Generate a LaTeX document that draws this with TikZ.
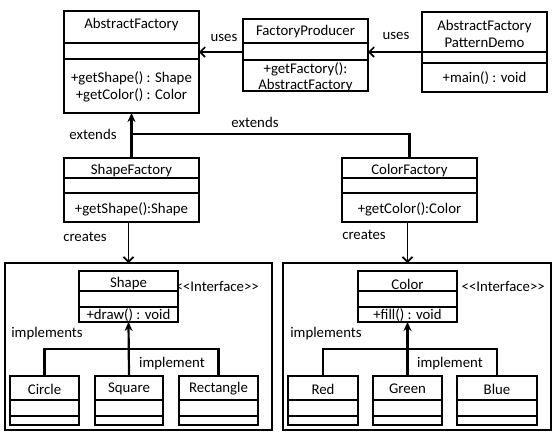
\documentclass[tikz,border=0pt]{standalone}
\usepackage{fontspec}
\setmainfont{Carlito}
\usetikzlibrary{arrows.meta,calc}
\newcommand\ubox[7]{%
  \node[box,minimum width={(#4-#2)*1pt},minimum height={(#5-#3)*1pt}] (#1) at (#2,#3) {};
  \draw[div] (#1.west |- 0,#6) -- (#1.east |- 0,#6);
  \draw[div] (#1.west |- 0,#7) -- (#1.east |- 0,#7);
}
\begin{document}
\begin{tikzpicture}[x=1pt,y=-1pt,
  box/.style={draw,line width=1.6pt,fill=white,inner sep=0pt,outer sep=0pt,anchor=north west},
  div/.style={line width=1.6pt},
  txt/.style={font=\fontsize{14.8}{17.5}\selectfont,inner sep=0pt,align=center},
  lbl/.style={font=\fontsize{14.8}{17.5}\selectfont,inner sep=0pt},
  usesarr/.style={line width=1.6pt,-{Straight Barb[length=5pt,width=10pt,line width=1.6pt]}},
  extarr/.style={line width=2.2pt,-{Stealth[length=9pt,width=8pt]}},
  plainline/.style={line width=2.2pt},
]
\useasboundingbox[fill=white] (0,0) rectangle (560,437);

% containers
\node[box,minimum width=267pt,minimum height=167pt] (leftc) at (5,263) {};
\node[box,minimum width=268pt,minimum height=167pt] (rightc) at (283,263) {};

% interface labels (drawn before boxes)
\node[lbl,anchor=east] (ifl) at (259,286) {<\kern0pt<Interface>\kern0pt>};
\node[lbl,anchor=east] (ifr) at (545,286) {<\kern0pt<Interface>\kern0pt>};

% boxes
\ubox{af}{64}{11}{199}{113}{43}{59}
\ubox{fp}{243}{19}{368}{91}{43}{60}
\ubox{demo}{422}{12}{547}{92}{52}{63}
\ubox{sf}{64}{158}{199}{222}{178}{193}
\ubox{cf}{342}{158}{477}{222}{178}{193}
\ubox{shape}{79}{271}{178}{322}{291}{307}
\ubox{color}{358}{271}{457}{322}{291}{307}
\ubox{circle}{10}{376}{79}{425}{400}{416}
\ubox{square}{95}{376}{163}{425}{400}{416}
\ubox{rect}{179}{376}{258}{425}{400}{416}
\ubox{red}{288}{376}{358}{425}{400}{416}
\ubox{green}{373}{376}{442}{425}{400}{416}
\ubox{blue}{457}{376}{537}{425}{400}{416}

% texts
\node[txt] (aft) at (131.5,25) {AbstractFactory};
\node[txt] (afm) at (131.5,87) {+getShape() : Shape\\+getColor() : Color};
\node[txt] (fpt) at (305.5,32) {FactoryProducer};
\node[txt,font=\fontsize{14.8}{16}\selectfont] (fpm) at (305.5,77.5) {+getFactory():\\AbstractFactory};
\node[txt] (demot) at (484.5,34) {AbstractFactory\\PatternDemo};
\node[txt] (demom) at (484.5,78) {+main() : void};
\node[txt] (sft) at (131.5,171) {ShapeFactory};
\node[txt] (sfm) at (131.5,209) {+getShape():Shape};
\node[txt] (cft) at (409.5,171) {ColorFactory};
\node[txt] (cfm) at (409.5,209) {+getColor():Color};
\node[txt] (shapet) at (128.5,284) {Shape};
\node[txt] (shapem) at (128.5,315) {+draw() : void};
\node[txt] (colort) at (407.5,284) {Color};
\node[txt] (colorm) at (407.5,315) {+fill() : void};
\node[txt] at (circle.center |- 0,389) {Circle};
\node[txt] at (square.center |- 0,389) {Square};
\node[txt] at (rect.center |- 0,389) {Rectangle};
\node[txt] at (red.center |- 0,389) {Red};
\node[txt] at (green.center |- 0,389) {Green};
\node[txt] at (blue.center |- 0,389) {Blue};

% labels
\node[lbl] (u1) at (224,38) {uses};
\node[lbl] (u2) at (396,36) {uses};
\node[lbl] (e1) at (93,134) {extends};
\node[lbl] (e2) at (255,122) {extends};
\node[lbl] (c1) at (85,237) {creates};
\node[lbl] (c2) at (364,235) {creates};
\node[lbl] (i1) at (47,334) {implements};
\node[lbl] (i2) at (172,364) {implement};
\node[lbl] (i3) at (326,334) {implements};
\node[lbl] (i4) at (450,364) {implement};

% connectors
\draw[usesarr] (demo.west |- 0,52) -- (fp.east |- 0,52);
\draw[usesarr] (fp.west |- 0,52) -- (af.east |- 0,52);
\coordinate (j) at (af.south |- 0,134);
\draw[extarr] (sf.north) -- (af.south);
\draw[plainline] (cf.north) |- (j);
\draw[usesarr] (sf.south -| shape.north) -- (leftc.north -| shape.north);
\draw[usesarr] (cf.south -| color.north) -- (rightc.north -| color.north);

\coordinate (hl) at (circle.north |- 0,349);
\coordinate (hr) at (red.north |- 0,349);
\draw[plainline] (circle.north) -- (hl) -| (rect.north);
\draw[extarr] (square.north) -- (shape.south);
\draw[plainline] (red.north) -- (hr) -| (blue.north);
\draw[extarr] (green.north) -- (color.south);
\end{tikzpicture}
\end{document}
